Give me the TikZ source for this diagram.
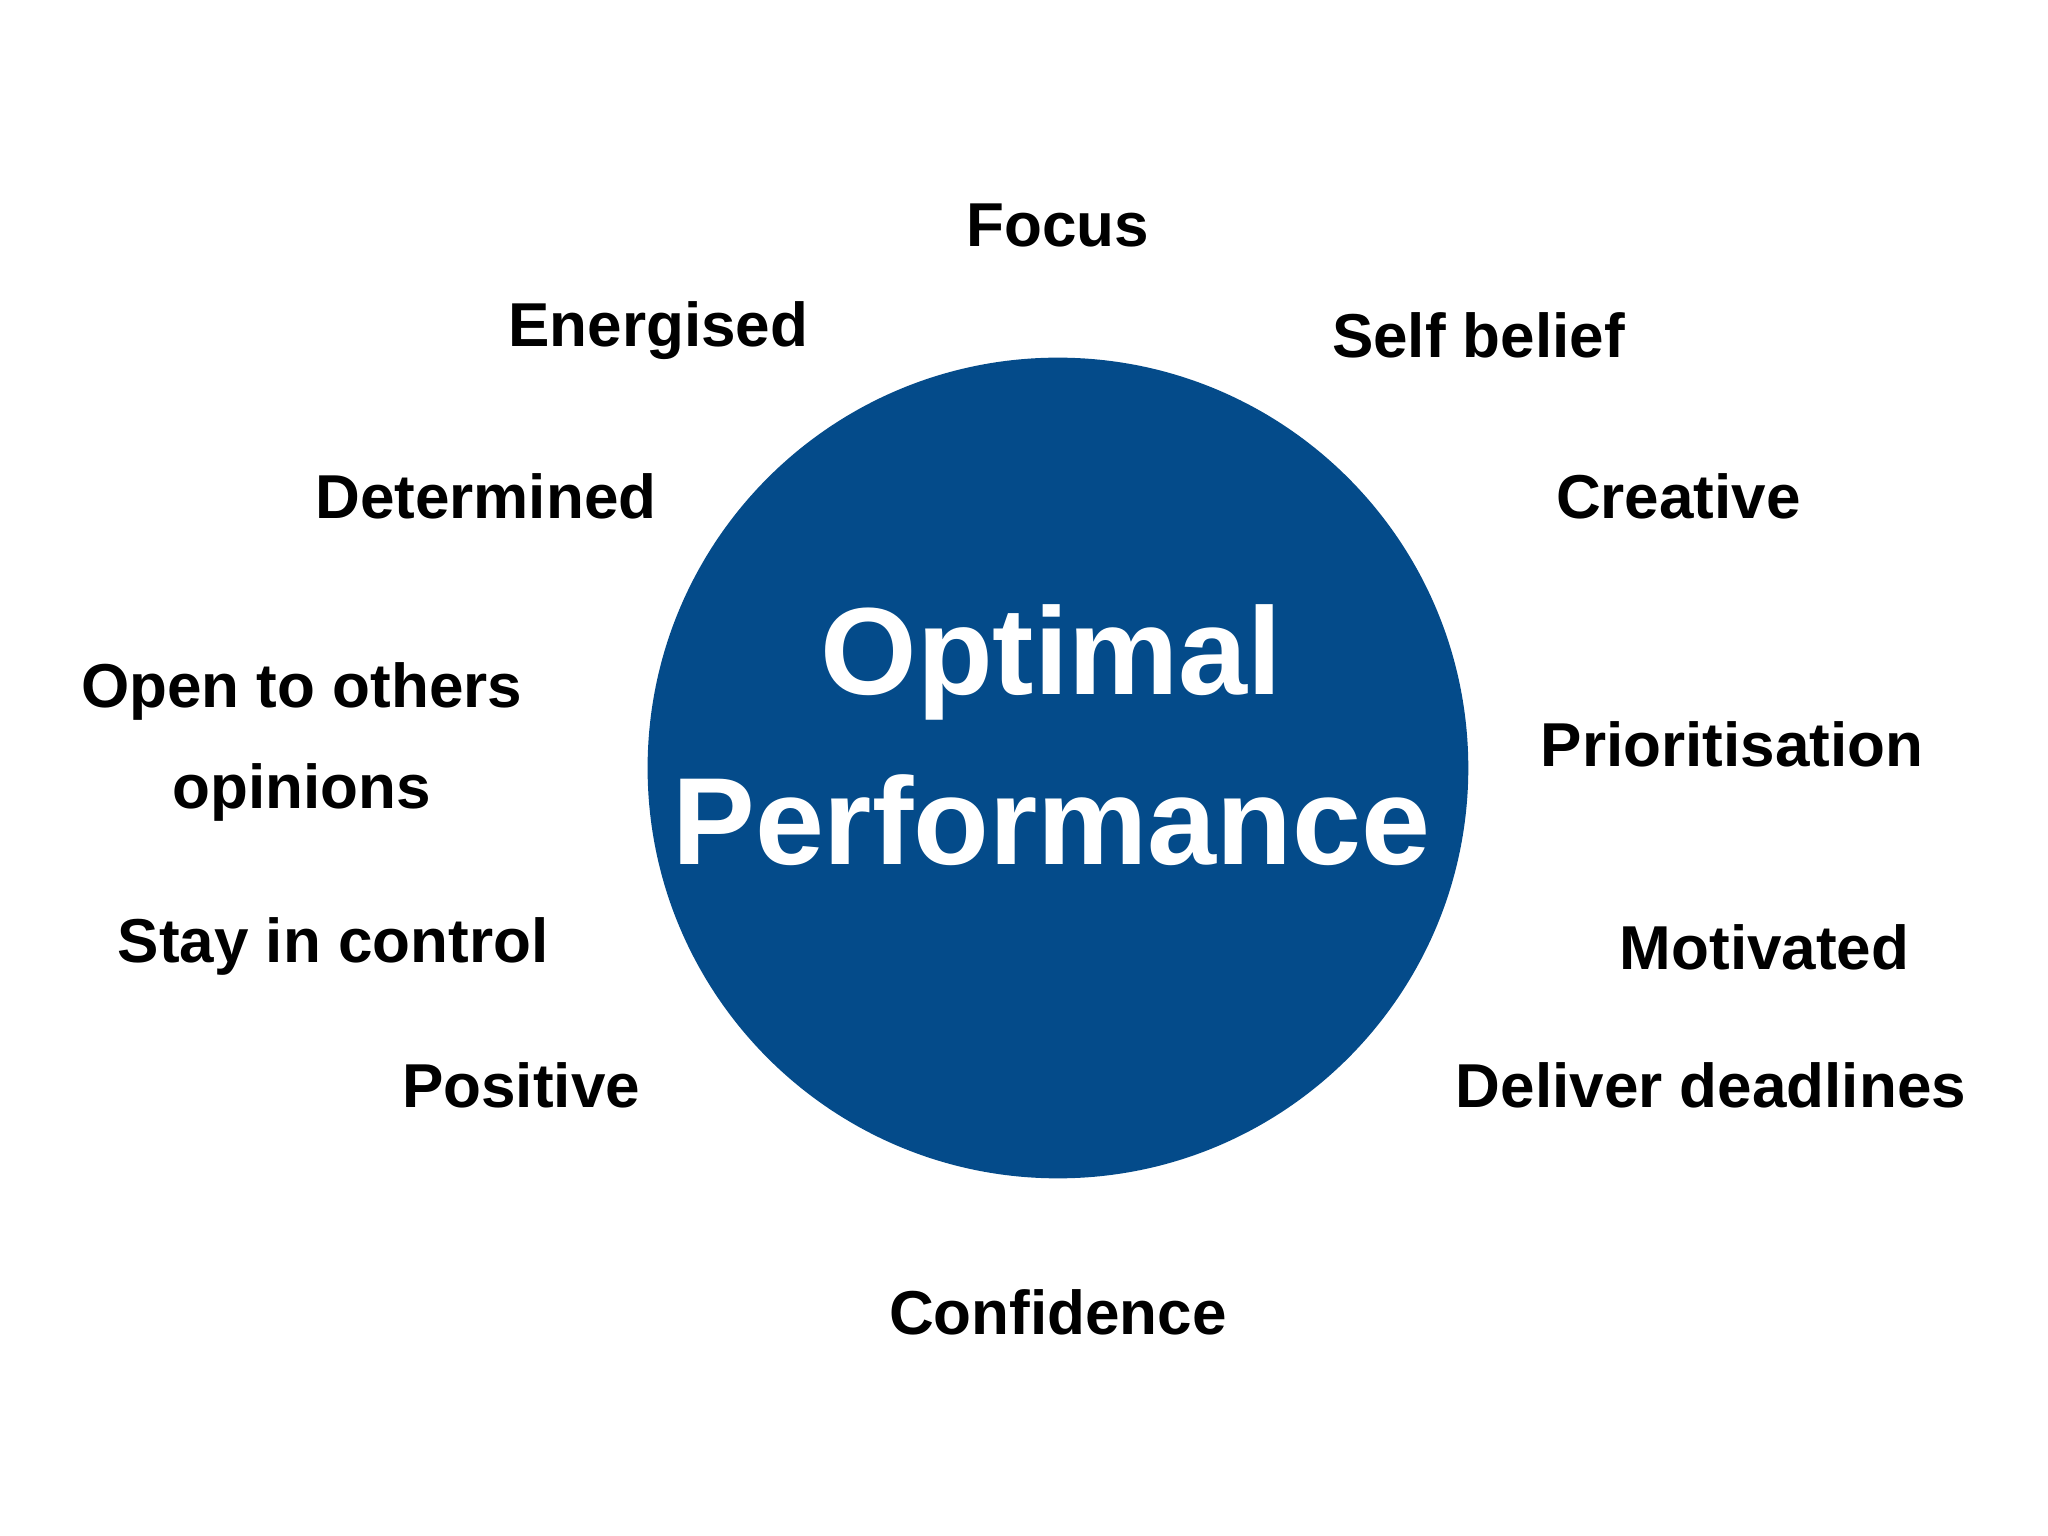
\documentclass[tikz,border=0pt]{standalone}
\usepackage{fontspec}
\setmainfont{Liberation Sans}
\definecolor{circblue}{HTML}{044B8A}
\begin{document}
\begin{tikzpicture}[x=0.01cm,y=-0.01cm,
  lbl/.style={font=\bfseries\fontsize{13.5}{16}\selectfont, text=black, inner sep=0pt, align=center}]
\useasboundingbox (0,0) rectangle (1568,1176);
\node[circle, fill=circblue, minimum size=6.28cm, inner sep=0pt] (c) at (810,588) {};
\node[font=\bfseries\fontsize{27}{37}\selectfont, text=white, align=center] (t) at (805,563) {Optimal\\Performance};
\node[lbl] (a1) at (810,173) {Focus};
\node[lbl] (a2) at (504,253) {Energised};
\node[lbl] (a3) at (1132,257) {Self belief};
\node[lbl] (a4) at (372,380) {Determined};
\node[lbl] (a5) at (1285,380) {Creative};
\node[lbl, font=\bfseries\fontsize{13.5}{22}\selectfont] (a6) at (231,568) {Open to others\\opinions};
\node[lbl] (a7) at (1326,570) {Prioritisation};
\node[lbl] (a8) at (255,725) {Stay in control};
\node[lbl] (a9) at (1351,725) {Motivated};
\node[lbl] (a10) at (399,831) {Positive};
\node[lbl] (a11) at (1310,831) {Deliver deadlines};
\node[lbl] (a12) at (810,1005) {Confidence};
\end{tikzpicture}
\end{document}
